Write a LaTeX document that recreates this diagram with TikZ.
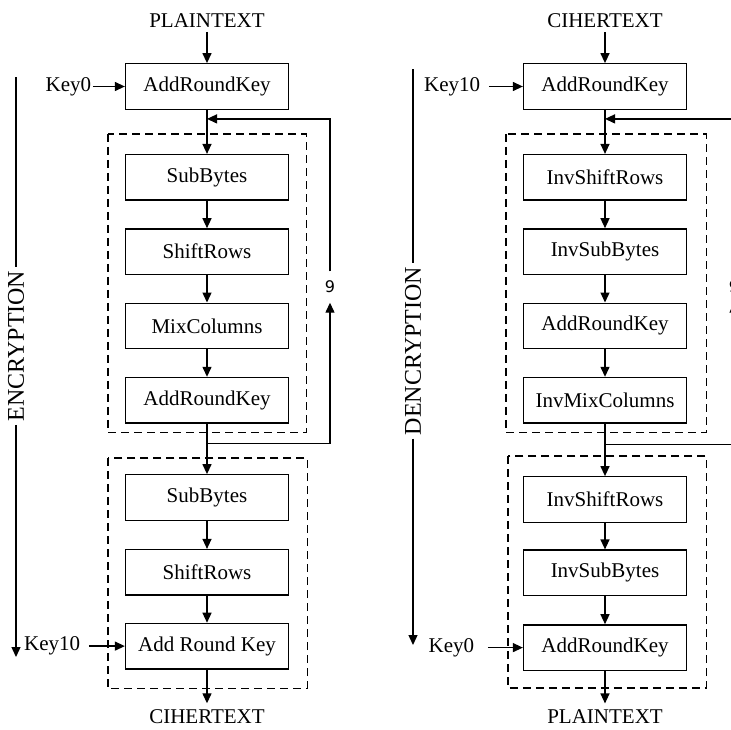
\documentclass[tikz,border=0pt]{standalone}
\usepackage{fontspec}
\setmainfont{Liberation Serif}
\newfontfamily\ninefont{DejaVu Sans}
\usetikzlibrary{positioning,calc,arrows.meta}

\begin{document}
\begin{tikzpicture}[x=1pt, y=1pt, node distance=27.5pt, line width=1.3pt,
  every node/.style={font=\fontsize{21}{24}\selectfont},
  box/.style={draw, minimum width=163pt, minimum height=45.5pt, inner sep=0pt},
  frame/.style={draw, dash pattern=on 8pt off 5pt},
  arr/.style={-{Triangle[length=10pt,width=9pt]}},
  sidelbl/.style={rotate=90, font=\fontsize{24}{28}\selectfont, inner sep=3pt},
  loopnum/.style={font=\ninefont\fontsize{16}{18}\selectfont, inner sep=9pt}]
\useasboundingbox (0,0) rectangle (731,-729);

% encryption
\node (pt1) at (207,-21) {PLAINTEXT};
\node[box] (ark0) at (207,-86.5) {AddRoundKey};
\node[box, below=44pt of ark0] (sb1) {SubBytes};
\node[box, below=of sb1] (sr1) {ShiftRows};
\node[box, below=of sr1] (mc1) {MixColumns};
\node[box, below=of mc1] (ark1) {AddRoundKey};
\node[box, below=50.5pt of ark1] (sb2) {SubBytes};
\node[box, below=28pt of sb2] (sr2) {ShiftRows};
\node[box, below=27pt of sr2] (ark2) {Add Round Key};
\node[inner sep=2pt] (ct1) at (207,-717) {CIHERTEXT};
\node[inner sep=1pt, left=32pt of ark0] (k0a) {Key0};
\node[inner sep=1pt, left=43pt of ark2] (k10a) {Key10};
\node[loopnum] (n9a) at (330,-287) {9};
\coordinate (lfb) at ($(ark0.south)+(0,-9)$);
\coordinate (lj) at ($(ark1.south)+(0,-20)$);

\draw[frame] ($(sb1.north west)+(-17,20)$) rectangle ($(ark1.south east)+(17,-9)$);
\draw[frame] ($(sb2.north west)+(-17,16)$) rectangle ($(ark2.south east)+(18,-19)$);

\draw[arr] (pt1) -- (ark0);
\draw[arr] (k0a) -- (ark0);
\foreach \x/\y in {ark0/sb1,sb1/sr1,sr1/mc1,mc1/ark1,ark1/sb2,sb2/sr2,sr2/ark2}
  \draw[arr] (\x) -- (\y);
\draw[arr, shorten >=4pt] (ark2) -- (ct1);
\draw[arr, shorten <=7pt] (k10a) -- (ark2);
\draw[arr] (lj) -| (n9a.south);
\draw[arr] (n9a.north) |- (lfb);

\node[sidelbl] (enc) at (16,-346) {ENCRYPTION};
\coordinate (etop) at (16,-77);
\coordinate (ebot) at (16,-657);
\draw (etop) -- (enc.east);
\draw[arr] (enc.west) -- (ebot);

% decryption
\node (ct2) at (605,-21) {CIHERTEXT};
\node[box] (ark10) at (605,-86.5) {AddRoundKey};
\node[box, below=44pt of ark10] (isr1) {InvShiftRows};
\node[box, below=of isr1] (isb1) {InvSubBytes};
\node[box, below=of isb1] (ark11) {AddRoundKey};
\node[box, below=of ark11] (imc1) {InvMixColumns};
\node[box, below=52.5pt of imc1] (isr2) {InvShiftRows};
\node[box, below=26.5pt of isr2] (isb2) {InvSubBytes};
\node[box, below=28pt of isb2] (ark12) {AddRoundKey};
\node[inner sep=2pt] (pt2) at (605,-717) {PLAINTEXT};
\node[inner sep=1pt, left=41pt of ark10] (k10b) {Key10};
\node[inner sep=1pt, left=47pt of ark12] (k0b) {Key0};
\node[loopnum] (n9b) at (734,-287) {9};
\coordinate (rfb) at ($(ark10.south)+(0,-9)$);
\coordinate (rj) at ($(imc1.south)+(0,-21)$);

\draw[frame] ($(isr1.north west)+(-17,20)$) rectangle ($(imc1.south east)+(19,-9)$);
\draw[frame] ($(isr2.north west)+(-15,20)$) rectangle ($(ark12.south east)+(19,-17)$);

\draw[arr] (ct2) -- (ark10);
\draw[arr, shorten <=7pt] (k10b) -- (ark10);
\foreach \x/\y in {ark10/isr1,isr1/isb1,isb1/ark11,ark11/imc1,imc1/isr2,isr2/isb2,isb2/ark12}
  \draw[arr] (\x) -- (\y);
\draw[arr, shorten >=4pt] (ark12) -- (pt2);
\draw[arr, shorten <=12pt] (k0b) -- (ark12);
\draw[arr] (rj) -| (n9b.south);
\draw[arr] (n9b.north) |- (rfb);

\node[sidelbl] (denc) at (413,-351) {DENCRYPTION};
\coordinate (dtop) at (413,-69);
\coordinate (dbot) at (413,-645);
\draw (dtop) -- (denc.east);
\draw[arr] (denc.west) -- (dbot);
\end{tikzpicture}
\end{document}
